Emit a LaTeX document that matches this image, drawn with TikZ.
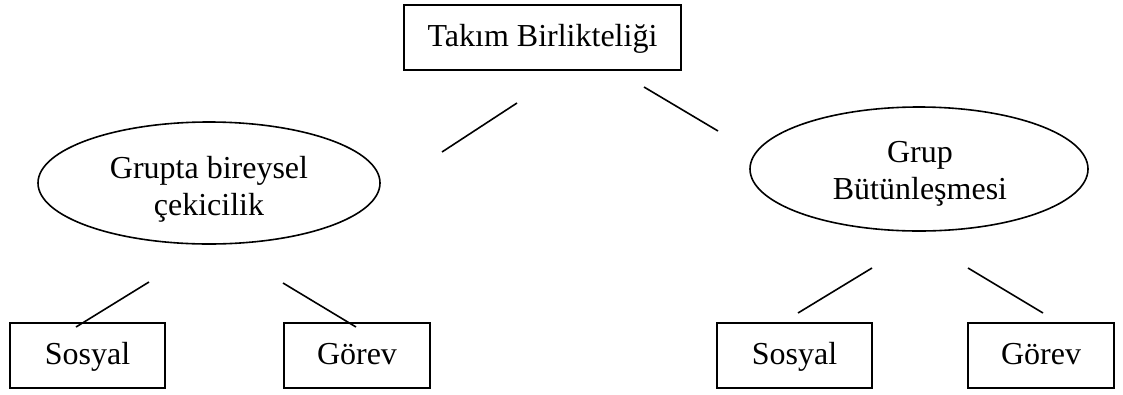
\documentclass[tikz,border=0pt]{standalone}
\usepackage{fontspec}
\setmainfont{Liberation Serif}
\usetikzlibrary{shapes.geometric}
\begin{document}
\begin{tikzpicture}[x=1pt,y=-1pt,
  every node/.style={font=\fontsize{32}{36.8}\selectfont, inner sep=0pt},
  box/.style={draw, line width=1.6pt, rectangle, minimum height=65pt,
              text height=24pt, text depth=7pt},
  oval/.style={draw, line width=1.6pt, ellipse},
  caption/.style={align=center},
  link/.style={line width=1.6pt}]
\fill[white] (0,0) rectangle (1123,394);
\useasboundingbox (0,0) rectangle (1123,394);

% top level
\node[box, minimum width=277pt] (top) at (542.5,37.5) {Takım Birlikteliği};

% second level
\node[oval, minimum width=342pt, minimum height=122pt] (left) at (209,183) {};
\node[caption] (lefttext) at (209,189) {Grupta bireysel\\çekicilik};
\node[oval, minimum width=338pt, minimum height=124pt] (right) at (919,169) {};
\node[caption] (righttext) at (920,174) {Grup\\Bütünleşmesi};

% third level
\node[box, minimum width=155pt] (lsos) at (87.5,355.5) {Sosyal};
\node[box, minimum width=146pt] (lgor) at (357,355.5) {Görev};
\node[box, minimum width=155pt] (rsos) at (794.5,355.5) {Sosyal};
\node[box, minimum width=146pt] (rgor) at (1041,355.5) {Görev};

% free-standing connector ends
\coordinate (a1) at (517,103);  \coordinate (a2) at (442,152);
\coordinate (b1) at (644,87);   \coordinate (b2) at (718,131);
\coordinate (c1) at (149,282);  \coordinate (c2) at (76,327);
\coordinate (d1) at (283,283);  \coordinate (d2) at (356,327);
\coordinate (e1) at (872,268);  \coordinate (e2) at (798,313);
\coordinate (f1) at (968,268);  \coordinate (f2) at (1043,313);

\draw[link] (a1) -- (a2);
\draw[link] (b1) -- (b2);
\draw[link] (c1) -- (c2);
\draw[link] (d1) -- (d2);
\draw[link] (e1) -- (e2);
\draw[link] (f1) -- (f2);
\end{tikzpicture}
\end{document}
